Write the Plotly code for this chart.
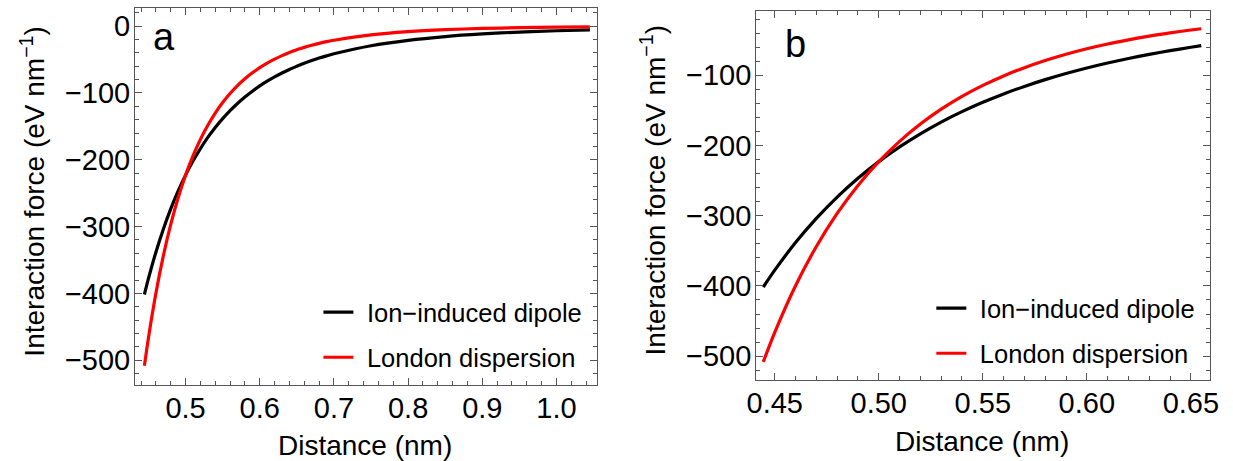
import plotly.graph_objects as go

# ---- data ----
distance_nm = [0.4445, 0.45, 0.46, 0.47, 0.48, 0.49, 0.50, 0.51, 0.52, 0.53, 0.54, 0.55,
               0.56, 0.57, 0.58, 0.59, 0.60, 0.61, 0.62, 0.63, 0.64, 0.65, 0.655, 0.66,
               0.67, 0.68, 0.69, 0.70, 0.75, 0.80, 0.85, 0.90, 0.95, 1.00, 1.045]
ion_induced_dipole = [-401.6, -377.6, -338.3, -303.9, -273.5, -246.7, -223.0, -202.0, -183.3,
                      -166.6, -151.8, -138.5, -126.5, -115.8, -106.2, -97.5, -89.6, -82.5,
                      -76.1, -70.2, -64.9, -60.1, -57.8, -55.6, -51.6, -47.9, -44.6, -41.5,
                      -29.4, -21.3, -15.7, -11.8, -9.0, -7.0, -5.6]
london_dispersion = [-508.2, -466.2, -399.7, -343.9, -296.8, -256.9, -223.0, -194.1, -169.5,
                     -148.3, -130.1, -114.4, -100.9, -89.1, -78.9, -70.0, -62.2, -55.4,
                     -49.5, -44.2, -39.6, -35.5, -33.7, -31.9, -28.7, -25.9, -23.4, -21.2,
                     -13.1, -8.3, -5.4, -3.6, -2.5, -1.7, -1.3]
series_names = ["Ion\u2212induced dipole", "London dispersion"]
series_colors = ["#000000", "#ff0000"]
panel_labels = ["a", "b"]
x_title = "Distance (nm)"
y_title = "Interaction force (eV nm<sup>\u22121</sup>)"
panel_b_xmax = 0.655

W, H = 1233, 461
FONT = "Arial, Liberation Sans, sans-serif"


def px(x):
    return x / W


def py(y):
    return 1 - y / H


fig = go.Figure()

ys = [ion_induced_dipole, london_dispersion]
GAP = "\u2004"  # small gap between legend sample and legend text
# panel a: full range
for name, col, yv in zip(series_names, series_colors, ys):
    fig.add_trace(go.Scatter(x=distance_nm, y=yv, mode="lines", name=GAP + name,
                             line=dict(color=col, width=3.2, shape="spline", smoothing=0.8),
                             xaxis="x", yaxis="y", legend="legend", legendgroup=name + "a"))
# panel b: zoom on short distances
xb = [x for x in distance_nm if x <= panel_b_xmax]
for name, col, yv in zip(series_names, series_colors, ys):
    fig.add_trace(go.Scatter(x=xb, y=yv[:len(xb)], mode="lines", name=GAP + name,
                             line=dict(color=col, width=3.2, shape="spline", smoothing=0.8),
                             xaxis="x2", yaxis="y2", legend="legend2", legendgroup=name + "b"))

frame = "#555555"


def axis(rng, dom, dtick, mdtick, fmt=None, anchor=None, standoff=0):
    d = dict(range=rng, domain=dom, dtick=dtick, tick0=0, showgrid=False, zeroline=False,
             showline=True, linecolor=frame, linewidth=1.2, mirror="ticks",
             ticks="inside", ticklen=7, tickwidth=1.2, tickcolor=frame,
             tickfont=dict(family=FONT, size=29, color="black"),
             ticklabelstandoff=standoff,
             minor=dict(dtick=mdtick, tick0=0, ticks="inside", ticklen=4,
                        tickwidth=1, tickcolor=frame, showgrid=False),
             anchor=anchor)
    if fmt:
        d["tickformat"] = fmt
    return d


fig.update_layout(
    width=W, height=H,
    margin=dict(l=0, r=0, t=0, b=0),
    paper_bgcolor="white", plot_bgcolor="white",
    font=dict(family=FONT, color="black"),
    xaxis=axis([0.432, 1.055], [px(128), px(597)], 0.1, 0.02, ".1f", "y", -3),
    yaxis=axis([-537, 27], [py(385), py(8)], 100, 20, None, "x", -2),
    xaxis2=axis([0.4411, 0.6593], [px(758.3), px(1219)], 0.05, 0.01, ".2f", "y2", -3),
    yaxis2=axis([-534, -8], [py(380), py(10.7)], 100, 20, None, "x2", -2),
    legend=dict(x=px(314), y=py(289), xanchor="left", yanchor="top",
                bgcolor="rgba(0,0,0,0)", font=dict(family=FONT, size=25.5),
                tracegroupgap=9, itemwidth=30),
    legend2=dict(x=px(936), y=py(285), xanchor="left", yanchor="top",
                 bgcolor="rgba(0,0,0,0)", font=dict(family=FONT, size=25.5),
                 tracegroupgap=9, itemwidth=30),
    showlegend=True,
)

ann = []
# panel labels
ann.append(dict(text=panel_labels[0], x=px(157), y=py(37), xref="paper", yref="paper",
                showarrow=False, font=dict(family=FONT, size=38), xanchor="center", yanchor="middle"))
ann.append(dict(text=panel_labels[1], x=px(798), y=py(44), xref="paper", yref="paper",
                showarrow=False, font=dict(family=FONT, size=38), xanchor="center", yanchor="middle"))
# axis titles
for xc, yc in [(361, 445), (987.5, 441)]:
    ann.append(dict(text=x_title, x=px(xc), y=py(yc), xref="paper", yref="paper",
                    showarrow=False, font=dict(family=FONT, size=28),
                    xanchor="center", yanchor="middle"))
for xc, yc in [(24, 192), (654, 190)]:
    ann.append(dict(text=y_title, x=px(xc), y=py(yc), xref="paper", yref="paper",
                    showarrow=False, textangle=-90, font=dict(family=FONT, size=28),
                    xanchor="center", yanchor="middle"))
fig.update_layout(annotations=ann)

fig.write_html("out.html")
